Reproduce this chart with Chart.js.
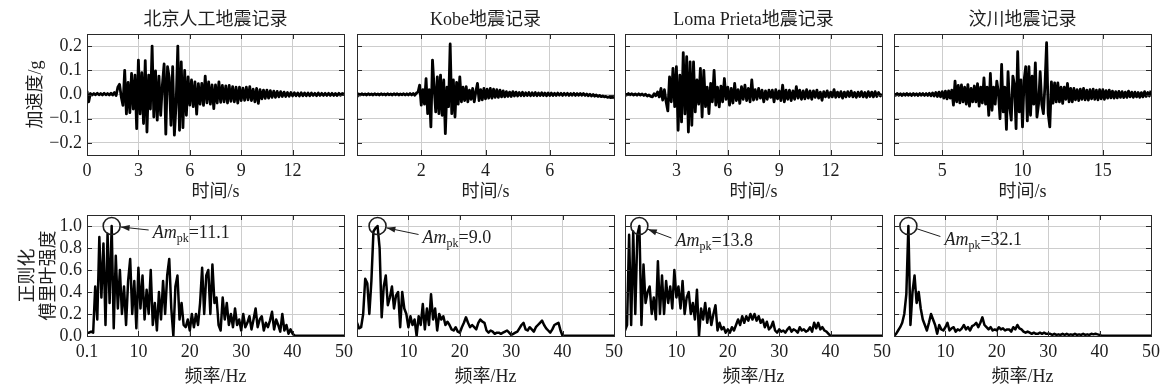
<!DOCTYPE html>
<html>
<head>
<meta charset="utf-8">
<script src="https://cdn.jsdelivr.net/npm/chart.js@4"></script>
<style>
  html, body { margin: 0; padding: 0; background: #fff; }
  body { width: 1160px; height: 389px; position: relative; overflow: hidden; }
  canvas { position: absolute; }
</style>
</head>
<body>
<script>
// ---- data ----
const recordNames = ['北京人工地震记录', 'Kobe地震记录', 'Loma Prieta地震记录', '汶川地震记录'];
const peakAmp = ['11.1', '9.0', '13.8', '32.1'];

const timeStart = [0, 0, 0, 2];
const timeEnd = [15, 8, 15, 18];
const timeStep = [0.1, 0.05, 0.1, 0.1];
const timeTicks = [[0, 3, 6, 9, 12], [2, 4, 6], [3, 6, 9, 12], [5, 10, 15]];
const accTicks = [-0.2, -0.1, 0, 0.1, 0.2];
const accLabels = ['\u22120.2', '\u22120.1', '0.0', '0.1', '0.2'];

const freqStep = 0.4;
const freqTicks = [[0, 10, 20, 30, 40, 50], [10, 20, 30, 40, 50], [10, 20, 30, 40, 50], [10, 20, 30, 40, 50]];
const freqLabels = [['0.1', '10', '20', '30', '40', '50'], ['10', '20', '30', '40', '50'], ['10', '20', '30', '40', '50'], ['10', '20', '30', '40', '50']];
const ampTicks = [0, 0.2, 0.4, 0.6, 0.8, 1.0];
const ampLabels = ['0.0', '0.2', '0.4', '0.6', '0.8', '1.0'];

// acceleration (g)
const acc1 = [
  0.015, -0.030, 0.004, -0.002, 0.004, -0.001, 0.005, -0.001, 0.004, -0.002,
  0.005, -0.001, 0.004, -0.002, 0.005, -0.002, 0.008, -0.004, 0.030, 0.042,
  -0.010, -0.045, 0.100, -0.080, 0.050, -0.075, 0.087, -0.060, 0.080, -0.141,
  0.142, -0.080, 0.090, -0.120, 0.140, -0.155, 0.080, -0.060, 0.200, -0.093,
  0.098, -0.106, 0.076, -0.086, 0.040, 0.126, -0.164, 0.115, 0.070, -0.127,
  0.115, -0.168, -0.040, 0.200, -0.148, 0.135, -0.137, 0.100, -0.086, 0.073,
  -0.044, 0.060, -0.050, 0.052, -0.081, 0.045, -0.040, 0.046, -0.045, 0.076,
  -0.035, 0.052, -0.040, 0.040, -0.058, 0.040, -0.035, 0.052, -0.032, 0.038,
  -0.030, 0.036, -0.035, 0.038, -0.028, 0.032, -0.030, 0.030, -0.036, 0.030,
  -0.025, 0.026, -0.024, 0.030, -0.022, 0.032, -0.025, 0.022, -0.030, 0.025,
  -0.037, 0.020, -0.018, 0.018, -0.016, 0.018, -0.015, 0.016, -0.012, 0.014,
  -0.012, 0.013, -0.010, 0.012, -0.008, 0.010, -0.008, 0.008, -0.007, 0.008,
  -0.006, 0.007, -0.005, 0.006, -0.006, 0.007, -0.005, 0.006, -0.005, 0.006,
  -0.005, 0.006, -0.004, 0.005, -0.005, 0.006, -0.004, 0.005, -0.004, 0.005,
  -0.004, 0.005, -0.004, 0.005, -0.004, 0.004, -0.004, 0.005, -0.003, 0.004,
  0.002
];
const acc2 = [
  -0.010, 0.002, -0.002, 0.003, -0.001, 0.002, -0.002, 0.003, -0.001, 0.002,
  -0.002, 0.003, -0.001, 0.002, -0.002, 0.003, -0.001, 0.002, -0.002, 0.003,
  -0.001, 0.002, -0.002, 0.003, -0.001, 0.003, -0.002, 0.002, -0.001, 0.003,
  -0.002, 0.003, -0.002, 0.004, -0.002, 0.004, -0.003, 0.006, 0.010, 0.039,
  -0.044, 0.020, -0.040, 0.066, -0.079, 0.020, -0.134, 0.142, 0.030, -0.072,
  0.073, -0.079, 0.080, -0.086, 0.060, -0.162, 0.030, -0.050, 0.209, -0.079,
  0.060, -0.093, 0.050, -0.040, 0.073, -0.030, 0.030, -0.025, 0.032, -0.030,
  0.018, -0.020, 0.025, -0.030, 0.012, 0.046, -0.025, 0.020, -0.022, 0.025,
  -0.018, 0.022, -0.015, 0.025, -0.015, 0.022, -0.012, 0.020, -0.012, 0.018,
  -0.010, 0.015, -0.010, 0.012, -0.008, 0.010, -0.008, 0.012, -0.006, 0.010,
  -0.006, 0.008, -0.005, 0.009, -0.005, 0.007, -0.004, 0.008, -0.005, 0.007,
  -0.004, 0.008, -0.005, 0.006, -0.004, 0.007, -0.004, 0.006, -0.005, 0.006,
  -0.004, 0.006, -0.004, 0.005, -0.004, 0.006, -0.003, 0.005, -0.004, 0.005,
  -0.003, 0.005, -0.004, 0.004, -0.003, 0.005, -0.004, 0.004, -0.003, 0.004,
  -0.003, 0.004, -0.004, 0.002, -0.005, 0.001, -0.006, 0.000, -0.007, -0.002,
  -0.008, -0.004, -0.009, -0.006, -0.010, -0.008, -0.012, -0.010, -0.013, -0.011,
  -0.014
];
const acc3 = [
  0.003, -0.002, 0.004, -0.001, 0.003, -0.002, 0.002, -0.003, 0.003, -0.002,
  0.002, -0.004, 0.001, -0.006, -0.002, -0.008, -0.010, 0.003, -0.005, 0.010,
  -0.010, 0.025, -0.023, 0.020, -0.030, -0.068, 0.073, -0.030, 0.108, -0.050,
  0.115, -0.148, 0.080, -0.113, 0.173, -0.080, 0.156, -0.155, 0.135, -0.127,
  0.135, -0.072, 0.060, -0.040, 0.108, -0.093, 0.100, -0.050, 0.030, -0.079,
  0.046, -0.030, 0.100, -0.044, 0.030, -0.051, 0.035, -0.030, 0.066, -0.020,
  0.030, -0.044, 0.025, -0.035, 0.046, -0.025, 0.020, -0.037, 0.032, -0.020,
  0.039, -0.025, 0.025, -0.030, 0.060, -0.023, 0.020, -0.020, 0.025, -0.015,
  0.018, -0.030, 0.015, -0.020, 0.018, -0.012, 0.018, -0.030, 0.020, -0.018,
  0.015, -0.025, 0.039, -0.030, 0.018, -0.020, 0.018, -0.025, 0.015, -0.020,
  0.032, -0.015, 0.018, -0.020, 0.015, -0.018, 0.020, -0.015, 0.015, -0.020,
  0.015, -0.012, 0.018, -0.015, 0.010, -0.024, 0.012, -0.010, 0.015, -0.012,
  0.010, -0.010, 0.020, -0.012, 0.010, -0.010, 0.012, -0.015, 0.010, -0.010,
  0.012, -0.008, 0.014, -0.010, 0.008, -0.012, 0.010, -0.008, 0.012, -0.010,
  0.008, -0.012, 0.012, -0.008, 0.010, -0.010, 0.012, -0.008, 0.008, -0.006,
  0.002
];
const acc4 = [
  0.003, -0.003, 0.004, -0.003, 0.003, -0.004, 0.003, -0.003, 0.004, -0.003,
  0.003, -0.004, 0.004, -0.003, 0.003, -0.004, 0.004, -0.003, 0.004, -0.004,
  0.004, -0.004, 0.005, -0.005, 0.006, -0.006, 0.008, -0.008, 0.010, -0.010,
  0.012, -0.015, 0.014, -0.018, 0.015, -0.015, 0.018, -0.044, 0.055, -0.030,
  0.038, -0.035, 0.040, -0.030, 0.030, -0.040, 0.041, -0.048, 0.025, -0.030,
  0.035, -0.030, 0.045, -0.048, 0.030, -0.035, 0.069, -0.040, 0.030, -0.086,
  0.087, -0.065, 0.030, -0.040, 0.055, 0.010, -0.100, 0.124, -0.072, 0.030,
  -0.144, 0.094, -0.050, -0.106, 0.076, 0.040, -0.141, 0.177, -0.072, 0.060,
  -0.134, 0.060, 0.115, -0.109, 0.115, -0.086, 0.076, -0.040, 0.131, -0.093,
  -0.040, 0.094, -0.040, -0.079, 0.040, 0.214, -0.079, -0.134, 0.052, -0.036,
  0.048, -0.030, 0.048, -0.030, 0.030, -0.037, 0.030, -0.020, 0.046, -0.030,
  0.025, -0.030, 0.025, -0.022, 0.020, -0.025, 0.022, -0.020, 0.025, -0.022,
  0.018, -0.023, 0.020, -0.018, 0.022, -0.020, 0.018, -0.022, 0.020, -0.018,
  0.020, -0.020, 0.016, -0.015, 0.018, -0.014, 0.014, -0.015, 0.012, -0.014,
  0.013, -0.012, 0.012, -0.013, 0.010, -0.012, 0.014, -0.010, 0.010, -0.012,
  0.010, -0.010, 0.008, -0.012, 0.008, -0.010, 0.012, -0.008, 0.008, -0.006,
  0.016
];

// normalised Fourier amplitude, 0 to 50 Hz
const spec1 = [
  0.03, 0.03, 0.04, 0.03, 0.45, 0.15, 0.90, 0.35, 0.84, 0.10,
  0.93, 0.30, 1.00, 0.07, 0.73, 0.25, 0.60, 0.20, 0.45, 0.10,
  0.50, 0.70, 0.20, 0.50, 0.07, 0.62, 0.25, 0.55, 0.15, 0.42,
  0.20, 0.60, 0.10, 0.30, 0.05, 0.40, 0.15, 0.50, 0.20, 0.55,
  0.70, 0.25, 0.00, 0.45, 0.55, 0.15, 0.30, 0.10, 0.08, 0.15,
  0.05, 0.20, 0.08, 0.20, 0.10, 0.30, 0.62, 0.20, 0.55, 0.60,
  0.20, 0.65, 0.30, 0.35, 0.10, 0.05, 0.35, 0.15, 0.30, 0.10,
  0.20, 0.08, 0.25, 0.10, 0.15, 0.05, 0.20, 0.08, 0.12, 0.18,
  0.06, 0.15, 0.25, 0.08, 0.15, 0.18, 0.05, 0.12, 0.08, 0.14,
  0.22, 0.06, 0.15, 0.10, 0.04, 0.20, 0.05, 0.10, 0.02, 0.06,
  0.02, 0.005, 0.003, 0.002, 0.002, 0.002, 0.002, 0.002, 0.002, 0.002,
  0.002, 0.002, 0.002, 0.002, 0.002, 0.002, 0.002, 0.002, 0.002, 0.002,
  0.002, 0.002, 0.002, 0.002, 0.002, 0.002
];
const spec2 = [
  0.12, 0.07, 0.08, 0.20, 0.52, 0.48, 0.20, 0.50, 0.95, 0.98,
  1.00, 0.80, 0.17, 0.45, 0.55, 0.28, 0.35, 0.45, 0.25, 0.37,
  0.40, 0.08, 0.40, 0.25, 0.20, 0.08, 0.18, 0.10, 0.15, 0.00,
  0.18, 0.10, 0.29, 0.06, 0.25, 0.10, 0.38, 0.15, 0.25, 0.05,
  0.20, 0.15, 0.18, 0.10, 0.13, 0.10, 0.06, 0.05, 0.08, 0.04,
  0.03, 0.08, 0.12, 0.17, 0.12, 0.08, 0.10, 0.08, 0.06, 0.12,
  0.15, 0.13, 0.12, 0.05, 0.03, 0.05, 0.04, 0.02, 0.03, 0.03,
  0.02, 0.03, 0.04, 0.05, 0.03, 0.01, 0.02, 0.03, 0.04, 0.07,
  0.10, 0.12, 0.06, 0.05, 0.08, 0.06, 0.04, 0.08, 0.10, 0.12,
  0.14, 0.10, 0.07, 0.05, 0.03, 0.06, 0.10, 0.11, 0.12, 0.05,
  0.00, 0.002, 0.002, 0.002, 0.002, 0.002, 0.002, 0.002, 0.002, 0.002,
  0.002, 0.002, 0.002, 0.002, 0.002, 0.002, 0.002, 0.002, 0.002, 0.002,
  0.002, 0.002, 0.002, 0.002, 0.002, 0.002
];
const spec3 = [
  0.05, 0.10, 0.92, 0.10, 0.95, 0.20, 0.92, 1.00, 0.10, 0.65,
  0.30, 0.40, 0.45, 0.20, 0.35, 0.15, 0.68, 0.20, 0.55, 0.20,
  0.50, 0.30, 0.45, 0.25, 0.60, 0.35, 0.45, 0.25, 0.50, 0.20,
  0.35, 0.40, 0.20, 0.30, 0.15, 0.42, 0.00, 0.25, 0.15, 0.30,
  0.12, 0.25, 0.10, 0.20, 0.28, 0.05, 0.12, 0.06, 0.08, 0.03,
  0.06, 0.03, 0.08, 0.05, 0.10, 0.15, 0.10, 0.18, 0.12, 0.18,
  0.14, 0.20, 0.15, 0.20, 0.14, 0.18, 0.12, 0.15, 0.08, 0.13,
  0.06, 0.08, 0.13, 0.05, 0.03, 0.06, 0.04, 0.05, 0.03, 0.06,
  0.08, 0.04, 0.06, 0.05, 0.03, 0.08, 0.05, 0.06, 0.04, 0.05,
  0.08, 0.04, 0.12, 0.07, 0.12, 0.06, 0.08, 0.05, 0.04, 0.02,
  0.00, 0.002, 0.002, 0.002, 0.002, 0.002, 0.002, 0.002, 0.002, 0.002,
  0.002, 0.002, 0.002, 0.002, 0.002, 0.002, 0.002, 0.002, 0.002, 0.002,
  0.002, 0.002, 0.002, 0.002, 0.002, 0.002
];
const spec4 = [
  0.00, 0.02, 0.05, 0.08, 0.12, 0.20, 0.38, 1.00, 0.10, 0.40,
  0.55, 0.30, 0.40, 0.25, 0.15, 0.10, 0.05, 0.12, 0.20, 0.15,
  0.10, 0.02, 0.10, 0.06, 0.05, 0.08, 0.12, 0.05, 0.07, 0.08,
  0.04, 0.06, 0.05, 0.07, 0.10, 0.06, 0.08, 0.05, 0.09, 0.10,
  0.12, 0.08, 0.12, 0.17, 0.10, 0.08, 0.06, 0.08, 0.05, 0.06,
  0.05, 0.08, 0.06, 0.07, 0.05, 0.06, 0.06, 0.04, 0.08, 0.06,
  0.10, 0.07, 0.06, 0.04, 0.03, 0.04, 0.03, 0.02, 0.03, 0.02,
  0.02, 0.03, 0.02, 0.03, 0.02, 0.02, 0.02, 0.01, 0.02, 0.01,
  0.015, 0.01, 0.02, 0.01, 0.02, 0.01, 0.015, 0.01, 0.02, 0.01,
  0.015, 0.01, 0.02, 0.01, 0.015, 0.01, 0.02, 0.015, 0.02, 0.015,
  0.01, 0.002, 0.002, 0.002, 0.002, 0.002, 0.002, 0.002, 0.002, 0.002,
  0.002, 0.002, 0.002, 0.002, 0.002, 0.002, 0.002, 0.002, 0.002, 0.002,
  0.002, 0.002, 0.002, 0.002, 0.002, 0.002
];

const accs = [acc1, acc2, acc3, acc4];
const specs = [spec1, spec2, spec3, spec4];

// ---- layout ----
const plotLeft = [87, 357, 625, 894];
const plotTop = [34, 215];
const plotW = 257, plotH = 121;
const axisW = 87, headH = 34, footH = 56, padR = 22;

const serif = "'Liberation Serif', 'Noto Sans CJK SC', serif";
const ink = '#1e1e1e';
const gridColor = '#cdcdcd';

// where the Am_pk label sits relative to the peak circle
const markStyle = [
  { dx: 41, dy: 12, head: true },
  { dx: 45, dy: 16.5, head: true },
  { dx: 36, dy: 20, head: true },
  { dx: 36, dy: 18.5, head: false }
];

function toPoints(start, step, vals) {
  return vals.map((v, i) => ({ x: +(start + i * step).toFixed(3), y: v }));
}

// box + inward ticks, matlab style
const frame = {
  id: 'frame',
  afterDraw(chart) {
    const { ctx, chartArea: a, scales: { x, y } } = chart;
    ctx.save();
    ctx.strokeStyle = '#2a2a2a';
    ctx.lineWidth = 1;
    ctx.beginPath();
    x.ticks.forEach(t => {
      const px = Math.round(x.getPixelForValue(t.value)) + 0.5;
      ctx.moveTo(px, a.top); ctx.lineTo(px, a.top + 5);
      ctx.moveTo(px, a.bottom); ctx.lineTo(px, a.bottom - 5);
    });
    y.ticks.forEach(t => {
      const py = Math.round(y.getPixelForValue(t.value)) + 0.5;
      ctx.moveTo(a.left, py); ctx.lineTo(a.left + 5, py);
      ctx.moveTo(a.right, py); ctx.lineTo(a.right - 5, py);
    });
    ctx.stroke();
    ctx.strokeRect(a.left + 0.5, a.top + 0.5, a.width, a.height);
    ctx.restore();
  }
};

function peakMarker(amp, m) {
  return {
    id: 'peakMarker',
    afterDraw(chart) {
      const { ctx, scales: { x, y } } = chart;
      const pts = chart.data.datasets[0].data;
      let k = 0;
      pts.forEach((p, i) => { if (p.y > pts[k].y) k = i; });
      const cx = x.getPixelForValue(pts[k].x);
      const cy = y.getPixelForValue(pts[k].y);
      const r = 8.5;
      ctx.save();
      ctx.strokeStyle = ink;
      ctx.fillStyle = ink;
      ctx.lineWidth = 1.6;
      ctx.beginPath();
      ctx.arc(cx, cy, r, 0, Math.PI * 2);
      ctx.stroke();

      let tx = cx + m.dx;
      const ty = cy + m.dy;
      // pointer
      const sx = tx - 4, sy = ty - 8;
      const len = Math.hypot(sx - cx, sy - cy);
      const ux = (sx - cx) / len, uy = (sy - cy) / len;
      const hx = cx + ux * (r + 0.5), hy = cy + uy * (r + 0.5);
      ctx.lineWidth = 1;
      ctx.beginPath();
      ctx.moveTo(sx, sy);
      ctx.lineTo(hx, hy);
      ctx.stroke();
      if (m.head) {
        ctx.beginPath();
        ctx.moveTo(hx, hy);
        ctx.lineTo(hx + ux * 9 - uy * 3, hy + uy * 9 + ux * 3);
        ctx.lineTo(hx + ux * 9 + uy * 3, hy + uy * 9 - ux * 3);
        ctx.closePath();
        ctx.fill();
      }

      ctx.textAlign = 'left';
      ctx.textBaseline = 'alphabetic';
      ctx.font = 'italic 18px ' + serif;
      ctx.fillText('Am', tx, ty);
      tx += ctx.measureText('Am').width;
      ctx.font = '12px ' + serif;
      ctx.fillText('pk', tx, ty + 4);
      tx += ctx.measureText('pk').width;
      ctx.font = '18px ' + serif;
      ctx.fillText('=' + amp, tx, ty);
      ctx.restore();
    }
  };
}

function makePanel(row, col) {
  const cv = document.createElement('canvas');
  const w = axisW + plotW + padR, h = headH + plotH + footH;
  cv.width = w; cv.height = h;
  cv.style.left = (plotLeft[col] - axisW) + 'px';
  cv.style.top = (plotTop[row] - headH) + 'px';
  document.body.appendChild(cv);

  const top = row === 0;
  const data = top
    ? toPoints(timeStart[col], timeStep[col], accs[col])
    : toPoints(0, freqStep, specs[col]);
  const xt = top ? timeTicks[col] : freqTicks[col];
  const xl = top ? timeTicks[col].map(String) : freqLabels[col];
  const yt = top ? accTicks : ampTicks;
  const yl = top ? accLabels : ampLabels;

  let yTitle = { display: false };
  if (col === 0) {
    yTitle = top
      ? { display: true, text: '加速度/g', color: ink, font: { family: serif, size: 18, lineHeight: 1.15 }, padding: { top: 25.5 } }
      : { display: true, text: ['正则化', '傅里叶强度'], color: ink, font: { family: serif, size: 18, lineHeight: 1.2 }, padding: { top: 17 } };
  }

  const plugins = [frame];
  if (!top) plugins.push(peakMarker(peakAmp[col], markStyle[col]));

  new Chart(cv, {
    type: 'line',
    data: {
      datasets: [{
        data: data,
        borderColor: '#000',
        borderWidth: top ? 2.8 : 2.5,
        borderJoinStyle: 'round',
        pointRadius: 0,
        tension: 0,
        fill: false
      }]
    },
    options: {
      responsive: false,
      animation: false,
      devicePixelRatio: 1,
      events: [],
      layout: { padding: { left: 0, right: padR, top: top ? 0 : headH, bottom: 0 } },
      plugins: {
        legend: { display: false },
        tooltip: { enabled: false },
        title: {
          display: top,
          text: recordNames[col],
          fullSize: false,
          color: ink,
          font: { family: serif, size: 18, weight: 'normal' },
          padding: { top: 9, bottom: 3.4 }
        }
      },
      scales: {
        x: {
          type: 'linear',
          min: top ? timeStart[col] : 0,
          max: top ? timeEnd[col] : 50,
          afterBuildTicks: s => { s.ticks = xt.map(v => ({ value: v })); },
          afterFit: s => { s.height = footH; },
          grid: { color: gridColor, lineWidth: 1, drawTicks: false },
          border: { display: false },
          ticks: {
            padding: 5, color: ink, autoSkip: false, maxRotation: 0,
            font: { family: serif, size: 18 },
            callback: (v, i) => xl[i]
          },
          title: {
            display: true,
            text: top ? '时间/s' : '频率/Hz',
            color: ink,
            font: { family: serif, size: 18 },
            padding: { top: 0, bottom: top ? 8 : 3.7 }
          }
        },
        y: {
          type: 'linear',
          min: top ? -0.25 : 0,
          max: top ? 0.25 : 1.1,
          afterBuildTicks: s => { s.ticks = yt.map(v => ({ value: v })); },
          afterFit: s => { s.width = axisW; },
          grid: { color: gridColor, lineWidth: 1, drawTicks: false },
          border: { display: false },
          ticks: {
            padding: 5, color: ink, autoSkip: false,
            font: { family: serif, size: 18 },
            callback: (v, i) => (col === 0 ? yl[i] : '')
          },
          title: yTitle
        }
      }
    },
    plugins: plugins
  });
}

for (let r = 0; r < 2; r++) {
  for (let c = 0; c < 4; c++) makePanel(r, c);
}
</script>
</body>
</html>
